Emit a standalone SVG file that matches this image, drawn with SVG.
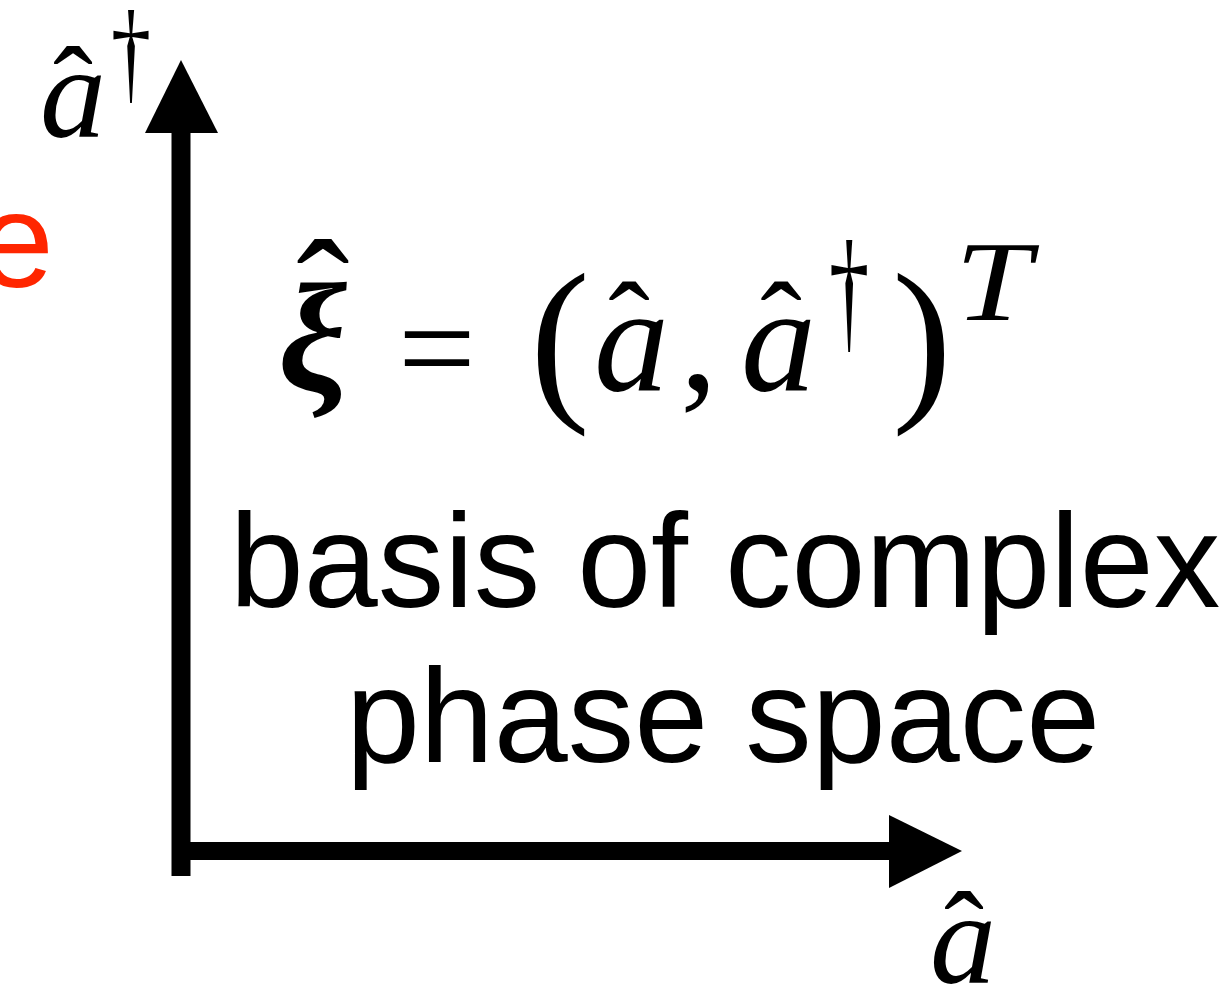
<svg xmlns="http://www.w3.org/2000/svg" width="1224" height="987" viewBox="0 0 1224 987">
<style>
.m{font-family:"Liberation Serif","DejaVu Serif",serif;font-style:italic;fill:#000}
.r{font-family:"Liberation Serif","DejaVu Serif",serif;fill:#000}
.s{font-family:"Liberation Sans",Arial,sans-serif;fill:#000}
</style>
<rect width="1224" height="987" fill="#fff"/>
<g id="connectors">
<line x1="181" y1="876" x2="181" y2="130" stroke="#000" stroke-width="19"/>
<polygon points="181,60 218,133 145,133" fill="#000"/>
<line x1="172" y1="851" x2="892" y2="851" stroke="#000" stroke-width="18"/>
<polygon points="962,851 889,815 889,888" fill="#000"/>
</g>
<g id="label-adag">
<text class="m" x="40" y="137" font-size="132">a</text>
<text class="r" x="73" y="130" font-size="120" text-anchor="middle">ˆ</text>
<text class="r" transform="translate(131,90) scale(0.8,1.15)" font-size="100" text-anchor="middle">†</text>
</g>
<g id="label-a">
<text class="m" x="930" y="983" font-size="132">a</text>
<text class="r" x="964" y="975" font-size="120" text-anchor="middle">ˆ</text>
</g>
<g id="red-e">
<text x="54" y="287" font-family="Liberation Sans,Arial,sans-serif" font-size="136" fill="#ff2600" text-anchor="end">e</text>
</g>
<g id="formula">
<text class="m" x="278" y="390" font-size="155" font-weight="bold">ξ</text>
<text class="r" x="323" y="351" font-size="160" text-anchor="middle">ˆ</text>
<text class="r" x="398" y="395" font-size="138">=</text>
<text class="r" x="530" y="398" font-size="180">(</text>
<text class="m" x="594" y="390" font-size="150">a</text>
<text class="r" x="629" y="368" font-size="125" text-anchor="middle">ˆ</text>
<text class="r" x="680" y="390" font-size="150">,</text>
<text class="m" x="741" y="390" font-size="150">a</text>
<text class="r" x="781" y="368" font-size="125" text-anchor="middle">ˆ</text>
<text class="r" transform="translate(849,336) scale(0.7,1.2)" font-size="115" text-anchor="middle">†</text>
<text class="r" x="892" y="398" font-size="180">)</text>
<text class="m" transform="translate(955,320) scale(1.2,1)" font-size="114">T</text>
</g>
<g id="caption">
<text class="s" x="725" y="607" font-size="133" text-anchor="middle">basis of complex</text>
<text class="s" x="723" y="762" font-size="133" text-anchor="middle">phase space</text>
</g>
</svg>
